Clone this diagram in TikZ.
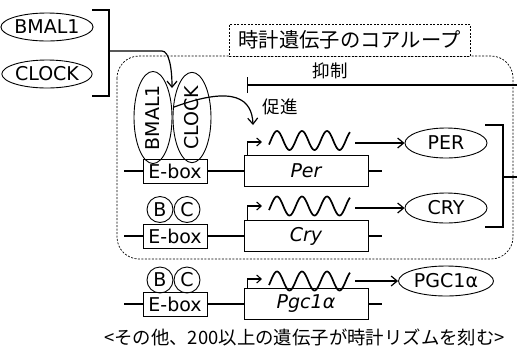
\documentclass[tikz,border=0pt]{standalone}
\usepackage{fontspec}
\setmainfont{DejaVu Sans}
\newfontfamily\jp{Noto Sans CJK JP}
\usetikzlibrary{arrows.meta,shapes.geometric}
\newcommand\generow[8]{%
  \node[ebox] (eb#7) at (175,#1) {E-box};
  \node[gbox] (gb#7) at (306,#1) {\itshape #2};
  \coordinate (l#7) at (124,#1);
  \coordinate (r#7) at (382,#1);
  \draw[conn] (l#7) -- (eb#7.west);
  \draw[conn] (eb#7.east) -- (gb#7.west);
  \draw[conn] (gb#7.east) -- (r#7);
  \coordinate (pt#7) at (262,#4);
  \draw[prom] ([xshift=4pt]gb#7.north west) |- (pt#7);
  \draw[wavy] plot[domain=269:350,samples=90,smooth] (\x,{#3-9.5*sin(14.4*(\x-270.75))});
  \node[ell, minimum width=#8pt, minimum height=30pt] (pr#7) at (446,#5) {#6};
  \coordinate (a#7) at (355,#5);
  \draw[arr] (a#7) -- (pr#7.west);
}
\begin{document}
\begin{tikzpicture}[x=1pt,y=-1pt,
  every node/.style={font=\fontsize{19}{21}\selectfont, inner sep=0pt},
  jpt/.style={font=\jp\fontsize{17.5}{20}\selectfont},
  ell/.style={draw, ellipse, line width=0.9pt},
  ebox/.style={draw, rectangle, line width=0.9pt, minimum width=64pt, minimum height=24pt},
  gbox/.style={draw, rectangle, line width=0.9pt, minimum width=124pt, minimum height=31pt},
  bc/.style={draw, circle, line width=0.9pt, minimum size=26pt},
  conn/.style={line width=1.2pt},
  brk/.style={line width=1.4pt},
  arr/.style={line width=1.2pt, -{Straight Barb[length=6pt,width=10pt]}},
  prom/.style={line width=1.1pt, -{Straight Barb[length=4.5pt,width=8pt]}},
  wavy/.style={line width=1.7pt},
  dbox/.style={line width=0.7pt, dash pattern=on 2pt off 1.5pt},
]
\useasboundingbox (0,0) rectangle (517,349);

% dashed core loop box
\draw[dbox, rounded corners=22pt] (117,56) rectangle (513,259);
\node[dbox, draw, fill=white, minimum width=241pt, minimum height=32pt,
      font=\jp\fontsize{20.3}{22}\selectfont] (title) at (349.5,40) {時計遺伝子のコアループ};

% BMAL1 / CLOCK proteins
\node[ell, minimum width=82pt, minimum height=28pt] (bmal) at (47,27) {BMAL1};
\node[ell, minimum width=82pt, minimum height=28pt] (clock) at (47,74) {CLOCK};
\coordinate (bt1) at (92,10); \coordinate (bt2) at (109,10);
\coordinate (bb1) at (92,96); \coordinate (bb2) at (109,96);
\coordinate (bm) at (109,51);
\draw[brk] (bt1) -- (bt2) -- (bb2) -- (bb1);

% dimer on E-box
\node[ell, rotate=90, minimum width=81pt, minimum height=38pt] (bmalv) at (153,117.5) {BMAL1};
\node[ell, rotate=90, minimum width=81pt, minimum height=38pt] (clockv) at (192,117.5) {CLOCK};
\coordinate (dimer) at (172,88);
\draw[arr] (bm) -- (162,51) .. controls (169,51) and (172,68) .. (dimer);
\coordinate (act) at (253,125);
\draw[arr] (clockv.62) .. controls (236,84) and (252,100) .. (act);
\node[jpt] (actl) at (280,107) {促進};

% gene rows
\generow{171}{Per}{140.5}{142}{143}{PER}{1}{82}
\generow{236}{Cry}{206}{206}{208}{CRY}{2}{82}
\generow{304}{Pgc1α}{281}{279}{281}{PGC1α}{3}{95}
\node[bc] (b2) at (160,209.5) {B};
\node[bc] (c2) at (187,209.5) {C};
\node[bc] (b3) at (160,280) {B};
\node[bc] (c3) at (187,280) {C};

% PER/CRY bracket and inhibition
\coordinate (rt1) at (485,125); \coordinate (rt2) at (503,125);
\coordinate (rb1) at (485,227); \coordinate (rb2) at (503,227);
\draw[brk] (rt1) -- (rt2) -- (rb2) -- (rb1);
\coordinate (rm) at (503,177);
\coordinate (re1) at (519,177);
\coordinate (re2) at (519,85);
\coordinate (inhend) at (247,85);
\draw[conn, -{Bar[width=16pt]}] (rm) -- (re1) -- (re2) -- (inhend);
\node[jpt] (inhl) at (330,71) {抑制};

% note
\node[font=\jp\fontsize{18.4}{20}\selectfont] (note) at (304.5,337) {<その他、200以上の遺伝子が時計リズムを刻む>};
\end{tikzpicture}
\end{document}
